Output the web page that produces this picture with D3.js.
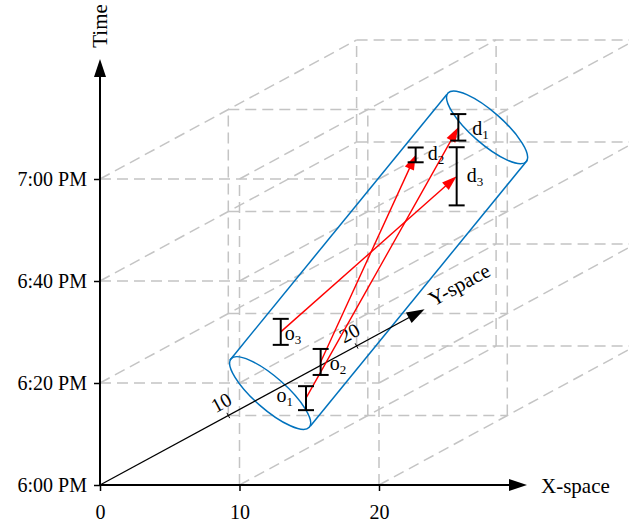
<!DOCTYPE html>
<html>
<head>
<meta charset="utf-8">
<script src="https://cdn.jsdelivr.net/npm/d3@7"></script>
<style>
body { margin: 0; background: #fff; }
text { font-family: "Liberation Serif", "Times New Roman", serif; fill: #000; }
</style>
</head>
<body>
<svg id="chart" width="629" height="526"></svg>
<script>
// ---- data ----
var xTicks = [0, 10, 20];
var yTicks = [10, 20];
var timeTicks = [0, 20, 40, 60];   // minutes after 6:00 PM

var gridX = [0, 10, 20];
var gridY = [0, 10, 20];
var gridT = [0, 20, 40, 60];

// origins and destinations (X, Y, time in min after 6 PM, +/- time window in min)
var pointNames = ["o1", "o2", "o3", "d1", "d2", "d3"];
var pointX = [5.57, 6.62, 3.76, 16.49, 13.43, 16.37];
var pointY = [10, 10, 10, 10, 10, 10];
var pointT = [3.4, 10.5, 16.4, 56.5, 51.1, 46.9];
var pointSpan = [2.35, 2.55, 2.55, 2.6, 1.45, 5.7];

var trips = [["o1", "d1"], ["o2", "d2"], ["o3", "d3"]];

// cylinder axis, bottom and top centres
var cylX = [3.0, 18.55];
var cylY = [10, 10];
var cylT = [4.4, 56.5];

// ---- layout ----
var labelDx = [-13, 9, 4, 14, 12, 10];
var labelDy = [4, 8, 8, 7.5, 5, 5.5];
var gridColor = "#c4c4c4";
var blue = "#0072BD";

var svg = d3.select("#chart");
var base = new Date(2000, 0, 1, 18, 0);
function toTime(m) { return new Date(base.getTime() + m * 60000); }

var x = d3.scaleLinear().domain([0, 20]).range([100, 379]);
var t = d3.scaleTime().domain([toTime(0), toTime(60)]).range([485, 179]);
var depthX = d3.scaleLinear().domain([0, 20]).range([0, 256.6]);
var depthY = d3.scaleLinear().domain([0, 20]).range([0, -139]);

function proj(X, Y, m) {
    return [x(X) + depthX(Y), t(toTime(m)) + depthY(Y)];
}

function arrowHead(g, tip, from, len, hw, color) {
    var dx = tip[0] - from[0], dy = tip[1] - from[1];
    var L = Math.hypot(dx, dy);
    var ux = dx / L, uy = dy / L;
    var bx = tip[0] - ux * len, by = tip[1] - uy * len;
    g.append("polygon")
        .attr("points", [
            [tip[0], tip[1]],
            [bx - uy * hw, by + ux * hw],
            [bx + uy * hw, by - ux * hw]
        ].map(function(p) { return p.join(","); }).join(" "))
        .attr("fill", color);
    return [bx + ux * 1, by + uy * 1];
}

// ---- grid ----
var segs = [];
gridY.forEach(function(Y) {
    gridT.forEach(function(m) {
        if (Y || m) segs.push([proj(0, Y, m), proj(20, Y, m)]);
    });
});
gridX.forEach(function(X) {
    gridT.forEach(function(m) {
        if (X || m) segs.push([proj(X, 0, m), proj(X, 20, m)]);
    });
});
gridX.forEach(function(X) {
    gridY.forEach(function(Y) {
        if (X || Y) segs.push([proj(X, Y, 0), proj(X, Y, 60)]);
    });
});

svg.append("g").attr("class", "grid")
    .selectAll("line")
    .data(segs)
    .enter().append("line")
    .attr("x1", function(d) { return d[0][0]; })
    .attr("y1", function(d) { return d[0][1]; })
    .attr("x2", function(d) { return d[1][0]; })
    .attr("y2", function(d) { return d[1][1]; })
    .attr("stroke", gridColor)
    .attr("stroke-width", 1.5)
    .attr("stroke-dasharray", "11,6");

// ---- axes ----
var axes = svg.append("g");

// time axis
var tAxis = d3.axisLeft(t)
    .tickValues(timeTicks.map(toTime))
    .tickFormat(d3.timeFormat("%-I:%M %p"))
    .tickSize(6)
    .tickPadding(7);
var tg = axes.append("g").attr("transform", "translate(100,0)").call(tAxis);
tg.select(".domain").remove();
tg.selectAll(".tick line").attr("stroke", "#000").attr("stroke-width", 1.5);
tg.selectAll("text").attr("font-size", 20).attr("font-family", "Liberation Serif");

var tTip = [100, 59];
axes.append("line").attr("x1", 100).attr("y1", t(toTime(0)))
    .attr("x2", 100).attr("y2", tTip[1] + 16)
    .attr("stroke", "#000").attr("stroke-width", 2);
arrowHead(axes, tTip, [100, 485], 18, 6, "#000");
axes.append("text")
    .attr("transform", "translate(107,26) rotate(-90)")
    .attr("text-anchor", "middle")
    .attr("font-size", 21)
    .text("Time");

// x axis
var xAxis = d3.axisBottom(x).tickValues(xTicks).tickSize(6).tickPadding(14);
var xg = axes.append("g").attr("transform", "translate(0,485)").call(xAxis);
xg.select(".domain").remove();
xg.selectAll(".tick line").attr("stroke", "#000").attr("stroke-width", 1.5);
xg.selectAll("text").attr("font-size", 20).attr("font-family", "Liberation Serif");

var xTip = [527, 485];
axes.append("line").attr("x1", 100).attr("y1", 485)
    .attr("x2", xTip[0] - 16).attr("y2", 485)
    .attr("stroke", "#000").attr("stroke-width", 2);
arrowHead(axes, xTip, [100, 485], 18, 6, "#000");
axes.append("text")
    .attr("x", 541).attr("y", 493)
    .attr("font-size", 21)
    .text("X-space");

// ---- cylinder ----
var c0 = proj(cylX[0], cylY[0], cylT[0]);
var c1 = proj(cylX[1], cylY[1], cylT[1]);
var cax = c1[0] - c0[0], cay = c1[1] - c0[1];
var cL = Math.hypot(cax, cay);
var nx = -cay / cL, ny = cax / cL;
var ang = Math.atan2(ny, nx) * 180 / Math.PI + 2;
var rA = 52, rB = 16;
var cyl = svg.append("g").attr("fill", "none").attr("stroke", blue).attr("stroke-width", 1.5);
[c0, c1].forEach(function(c) {
    cyl.append("ellipse")
        .attr("cx", c[0]).attr("cy", c[1])
        .attr("rx", rA).attr("ry", rB)
        .attr("transform", "rotate(" + ang + "," + c[0] + "," + c[1] + ")");
});
[1, -1].forEach(function(s) {
    cyl.append("line")
        .attr("x1", c0[0] + s * nx * rA).attr("y1", c0[1] + s * ny * rA)
        .attr("x2", c1[0] + s * nx * rA).attr("y2", c1[1] + s * ny * rA);
});

// y (depth) axis
var yAxisG = svg.append("g");
var yo = proj(0, 0, 0);
var yTip = proj(0, 25.3, 0);
var ydx = yTip[0] - yo[0], ydy = yTip[1] - yo[1], yL = Math.hypot(ydx, ydy);
var yux = ydx / yL, yuy = ydy / yL;
var yAng = Math.atan2(ydy, ydx) * 180 / Math.PI;
yAxisG.append("line")
    .attr("x1", yo[0]).attr("y1", yo[1])
    .attr("x2", yTip[0] - yux * 16).attr("y2", yTip[1] - yuy * 16)
    .attr("stroke", "#000").attr("stroke-width", 1.3);
arrowHead(yAxisG, yTip, yo, 18, 6, "#000");
yTicks.forEach(function(v) {
    var p = proj(0, v, 0);
    yAxisG.append("line")
        .attr("x1", p[0] - yuy * 3).attr("y1", p[1] + yux * 3)
        .attr("x2", p[0] + yuy * 3).attr("y2", p[1] - yux * 3)
        .attr("stroke", "#000").attr("stroke-width", 1);
    var lx = p[0] + yuy * 15, ly = p[1] - yux * 15;
    yAxisG.append("text")
        .attr("transform", "translate(" + lx + "," + ly + ") rotate(" + yAng + ")")
        .attr("text-anchor", "middle")
        .attr("dy", "0.35em")
        .attr("font-size", 20)
        .text(v);
});
var ylx = yTip[0] + yux * 9 - yuy * 2, yly = yTip[1] + yuy * 9 + yux * 2;
yAxisG.append("text")
    .attr("transform", "translate(" + ylx + "," + yly + ") rotate(" + yAng + ")")
    .attr("font-size", 21)
    .text("Y-space");

// ---- trips ----
var pts = {};
pointNames.forEach(function(n, i) {
    pts[n] = {
        name: n,
        c: proj(pointX[i], pointY[i], pointT[i]),
        hi: proj(pointX[i], pointY[i], pointT[i] + pointSpan[i]),
        lo: proj(pointX[i], pointY[i], pointT[i] - pointSpan[i]),
        dx: labelDx[i], dy: labelDy[i]
    };
});

var tripG = svg.append("g");
trips.forEach(function(tr) {
    var a = pts[tr[0]].c, b = pts[tr[1]].c;
    var end = arrowHead(tripG, b, a, 15, 5, "#ff0000");
    tripG.append("line")
        .attr("x1", a[0]).attr("y1", a[1])
        .attr("x2", end[0]).attr("y2", end[1])
        .attr("stroke", "#ff0000").attr("stroke-width", 1.4);
});

// ---- error bars ----
var barG = svg.append("g").attr("stroke", "#000").attr("stroke-width", 2);
var cap = 8;
pointNames.forEach(function(n) {
    var p = pts[n];
    barG.append("line").attr("x1", p.hi[0]).attr("y1", p.hi[1]).attr("x2", p.lo[0]).attr("y2", p.lo[1]);
    [p.hi, p.lo].forEach(function(q) {
        barG.append("line").attr("x1", q[0] - cap).attr("y1", q[1]).attr("x2", q[0] + cap).attr("y2", q[1]);
    });
    var lab = svg.append("text")
        .attr("x", p.c[0] + p.dx).attr("y", p.c[1] + p.dy)
        .attr("text-anchor", p.dx < 0 ? "end" : "start")
        .attr("font-size", 20);
    lab.append("tspan").text(n.charAt(0));
    lab.append("tspan").attr("font-size", 13).attr("dy", 4).text(n.charAt(1));
});
</script>
</body>
</html>
